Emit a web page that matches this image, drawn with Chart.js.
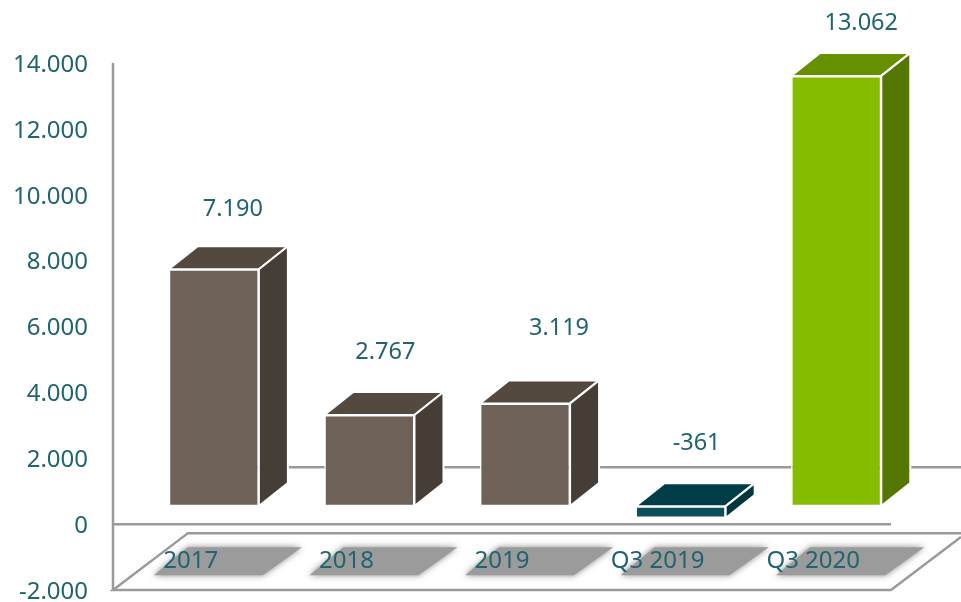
<!DOCTYPE html>
<html>
<head>
<meta charset="utf-8">
<script src="https://cdn.jsdelivr.net/npm/chart.js@4"></script>
<style>
  html, body { margin: 0; padding: 0; background: #fff; }
  #wrap { position: relative; width: 961px; height: 602px; }
  #chart { display: block; width: 961px; height: 602px; }
</style>
</head>
<body>
<div id="wrap"><canvas id="chart"></canvas></div>
<script>
const categories = ["2017", "2018", "2019", "Q3 2019", "Q3 2020"];
const values = [7190, 2767, 3119, -361, 13062];

const frontColors = ["#6e6158", "#6e6158", "#6e6158", "#0d4f5a", "#85bc00"];
const topColors = ["#54493f", "#54493f", "#54493f", "#003d47", "#669000"];
const sideColors = ["#463d37", "#463d37", "#463d37", "#00373f", "#537700"];

// where each value label sits, relative to its bar's top front edge
const labelDx = [19, 16, 34, 16, 25];
const labelDy = [-60, -63, -75, -63, -53];

const TEXT = "#1f6470";
const LINE = "#9a9a9a";
const FONT = '"Noto Sans", sans-serif';
const LIFT = 18;     // bars stand on the raised floor
const DEPTH_X = 29;
const DEPTH_Y = 23;

const fmt = v => v.toLocaleString("de-DE");

function poly(ctx, pts, fill, stroke, lw) {
  ctx.beginPath();
  pts.forEach((p, i) => i ? ctx.lineTo(p[0], p[1]) : ctx.moveTo(p[0], p[1]));
  ctx.closePath();
  if (fill) { ctx.fillStyle = fill; ctx.fill(); }
  if (stroke) { ctx.strokeStyle = stroke; ctx.lineWidth = lw; ctx.lineJoin = "round"; ctx.stroke(); }
}

function hline(ctx, x1, x2, y) {
  ctx.beginPath();
  ctx.moveTo(x1, y);
  ctx.lineTo(x2, y);
  ctx.stroke();
}

const scenery = {
  id: "scenery",
  beforeDatasetsDraw(chart) {
    const { ctx, scales: { x, y } } = chart;
    const y0 = y.getPixelForValue(0);
    const yMin = y.getPixelForValue(-2000);
    const yMax = y.getPixelForValue(14000);
    const axisX = x.left - 23;
    const rightX = x.right - 23;
    const floorTop = y0 + 9;

    ctx.save();
    ctx.strokeStyle = LINE;
    ctx.lineWidth = 2.5;

    // back wall line
    hline(ctx, axisX + 100, chart.width, y0 - 57);

    // floor
    ctx.beginPath();
    ctx.moveTo(chart.width, floorTop);
    ctx.lineTo(axisX + 75, floorTop);
    ctx.lineTo(axisX, yMin);
    ctx.lineTo(rightX, yMin);
    ctx.lineTo(chart.width, yMin - 53);
    ctx.stroke();

    // y axis and zero line
    ctx.beginPath();
    ctx.moveTo(axisX, yMax);
    ctx.lineTo(axisX, yMin);
    ctx.stroke();
    hline(ctx, axisX, rightX, y0);

    // label shadows
    ctx.shadowColor = "rgba(120,120,120,.9)";
    ctx.shadowBlur = 6;
    categories.forEach((c, i) => {
      const cx = x.getPixelForValue(i);
      poly(ctx, [
        [cx - 60, y0 + 51], [cx + 49, y0 + 51],
        [cx + 88, y0 + 23], [cx - 26, y0 + 23]
      ], "#9b9b9b");
    });
    ctx.restore();
  },
  beforeDatasetDraw(chart, args) {
    const { ctx } = chart;
    ctx.save();
    args.meta.data.forEach((bar, i) => {
      const p = bar.getProps(["x", "y", "base", "width"], true);
      const l = p.x - p.width / 2;
      const r = p.x + p.width / 2;
      const top = Math.min(p.y, p.base) - LIFT;
      const bot = Math.max(p.y, p.base) - LIFT;
      poly(ctx, [[l, top], [r, top], [r + DEPTH_X, top - DEPTH_Y], [l + DEPTH_X, top - DEPTH_Y]],
        topColors[i], "#fff", 2);
      poly(ctx, [[r, top], [r + DEPTH_X, top - DEPTH_Y], [r + DEPTH_X, bot - DEPTH_Y], [r, bot]],
        sideColors[i], "#fff", 2);
    });
    ctx.translate(0, -LIFT);
  },
  afterDatasetDraw(chart) {
    chart.ctx.restore();
  },
  afterDatasetsDraw(chart) {
    const { ctx, scales: { x, y } } = chart;
    const y0 = y.getPixelForValue(0);
    ctx.save();
    ctx.fillStyle = TEXT;
    ctx.textAlign = "center";
    ctx.textBaseline = "middle";
    ctx.font = "24px " + FONT;
    categories.forEach((c, i) => ctx.fillText(c, x.getPixelForValue(i) - 23, y0 + 37));
    ctx.font = "23.5px " + FONT;
    values.forEach((v, i) => {
      const top = Math.min(y.getPixelForValue(v), y0) - LIFT;
      ctx.fillText(fmt(v), x.getPixelForValue(i) + labelDx[i], top + labelDy[i]);
    });
    ctx.restore();
  }
};

new Chart(document.getElementById("chart"), {
  type: "bar",
  data: {
    labels: categories,
    datasets: [{
      data: values,
      backgroundColor: frontColors,
      borderColor: "#fff",
      borderWidth: 1.5,
      borderSkipped: false,
      barPercentage: 0.61,
      categoryPercentage: 0.95,
      clip: false
    }]
  },
  options: {
    responsive: true,
    maintainAspectRatio: false,
    devicePixelRatio: 1,
    animation: false,
    layout: { padding: { top: 63, right: 47, bottom: 12, left: 0 } },
    plugins: { legend: { display: false }, tooltip: { enabled: false } },
    scales: {
      x: {
        ticks: { display: false },
        grid: { display: false, drawTicks: false },
        border: { display: false },
        afterFit(scale) { scale.height = 0; }
      },
      y: {
        min: -2000,
        max: 14000,
        afterFit(scale) {
          scale.width = 136;
          // big tick padding would otherwise eat into the plot height
          scale.paddingTop = 0;
          scale.paddingBottom = 0;
        },
        grid: { display: false, drawTicks: false },
        border: { display: false },
        ticks: {
          stepSize: 2000,
          padding: 48,
          labelOffset: 2,
          color: TEXT,
          font: { family: FONT, size: 24 },
          callback: v => fmt(v)
        }
      }
    }
  },
  plugins: [scenery]
});
</script>
</body>
</html>
